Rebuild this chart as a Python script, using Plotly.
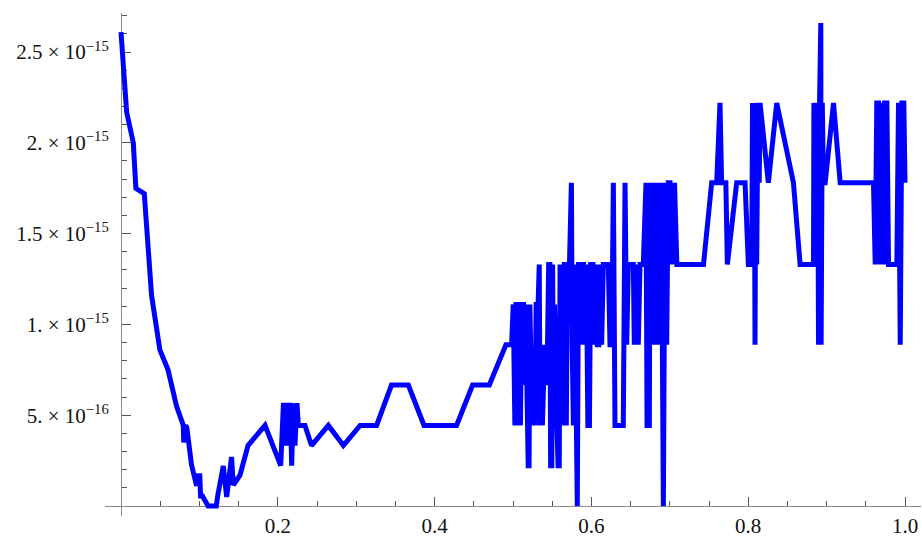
import numpy as np
import plotly.graph_objects as go

# Sample positions and the corresponding error values (in units of 1e-16)
x_vals = [
    0.0, 0.0072, 0.0157, 0.019, 0.0297, 0.039, 0.0496, 0.060, 0.0708, 0.0790,
    0.0795, 0.0800, 0.0825, 0.0840, 0.0900, 0.0965, 0.0975, 0.1005, 0.1015, 0.1040,
    0.1110, 0.1215, 0.1222, 0.1235, 0.1305, 0.1348, 0.1410, 0.1433, 0.1518, 0.1620,
    0.1837, 0.2037, 0.2071, 0.2085, 0.2113, 0.2134, 0.2160, 0.2177, 0.2198, 0.2219,
    0.2245, 0.2262, 0.2347, 0.2430, 0.2645, 0.2836, 0.3050, 0.3260, 0.3450, 0.3665,
    0.3865, 0.4280, 0.4485, 0.4698, 0.4910, 0.4982,
    0.5003, 0.5010, 0.5024, 0.5038, 0.5055, 0.5062, 0.5080, 0.5095, 0.5110, 0.5135,
    0.5145, 0.5160, 0.5175, 0.5194, 0.5205, 0.5215, 0.5225, 0.5240, 0.5255, 0.5270,
    0.5280, 0.5295, 0.5320, 0.5335, 0.5345, 0.5360, 0.5375, 0.5390, 0.5405, 0.5420,
    0.5440, 0.5455, 0.5470, 0.5480, 0.5495, 0.5505, 0.5515, 0.5530, 0.5545, 0.5560,
    0.5575, 0.5590, 0.5600, 0.5610, 0.5625, 0.5640, 0.5655, 0.5665, 0.5680, 0.5695,
    0.5720, 0.5745, 0.5755, 0.5770, 0.5785, 0.5800, 0.5820, 0.5835, 0.5850, 0.5865,
    0.5880, 0.5900, 0.5915, 0.5935, 0.5955, 0.5975, 0.5990, 0.6020, 0.6035, 0.6050,
    0.6075, 0.6095, 0.6105, 0.6131, 0.6152, 0.6216, 0.6237, 0.6260, 0.6280, 0.6301,
    0.6407, 0.6429, 0.6450, 0.6471, 0.6535, 0.6547, 0.6569, 0.6598, 0.6620, 0.6662,
    0.6696, 0.6710, 0.6739, 0.6747, 0.6770, 0.6790, 0.6811, 0.6832, 0.6854, 0.6875,
    0.6905, 0.6918, 0.6939, 0.6960, 0.6981, 0.7003, 0.7025, 0.7060, 0.7090, 0.7430,
    0.7534, 0.7598, 0.7640, 0.7661, 0.7715, 0.7734, 0.7853, 0.7960, 0.8002, 0.8045,
    0.8055, 0.8066, 0.8077, 0.8087, 0.8098, 0.8108, 0.8125, 0.8140, 0.8151, 0.8257,
    0.8364, 0.8577, 0.8662, 0.8833, 0.8838, 0.8850, 0.8860, 0.8875, 0.8885, 0.8897,
    0.8910, 0.8926, 0.8930, 0.8945, 0.8960, 0.8982, 0.9088, 0.9173, 0.9598, 0.9620,
    0.9640, 0.9662, 0.9685, 0.9705, 0.9726, 0.9740, 0.9769, 0.9790, 0.9896, 0.9917,
    0.9939, 0.9960, 0.9985, 1.0,
]

err_1e16 = [
    26.1, 21.7, 20.0, 17.5, 17.2, 11.6, 8.6, 7.5, 5.5, 4.44,
    4.44, 3.5, 4.44, 4.3, 2.25, 1.11, 1.67, 1.67, 0.55, 0.55,
    0.0, 0.0, 0.6, 0.6, 2.2, 0.5, 2.7, 1.15, 1.7, 3.33,
    4.44, 2.22, 5.55, 5.55, 3.33, 5.55, 5.55, 2.22, 5.66, 3.33,
    5.66, 4.44, 4.44, 3.33, 4.44, 3.33, 4.44, 4.44, 6.66, 6.66,
    4.44, 4.44, 6.66, 6.66, 8.88, 8.88,
    11.1, 8.88, 4.44, 11.1, 11.1, 4.44, 8.88, 4.44, 11.1, 11.1,
    6.66, 11.1, 4.44, 2.22, 2.22, 11.1, 8.88, 6.66, 4.44, 6.66,
    4.44, 11.1, 11.1, 13.3, 4.44, 6.66, 4.44, 6.66, 8.88, 6.66,
    8.88, 13.3, 13.3, 2.22, 2.22, 13.3, 6.66, 11.1, 4.44, 4.44,
    2.22, 2.22, 13.3, 4.44, 13.3, 4.44, 13.3, 13.3, 4.44, 13.3,
    13.3, 17.8, 8.88, 4.44, 13.3, 4.44, 0.0, 13.3, 13.3, 8.88,
    13.3, 13.3, 8.88, 13.3, 4.44, 4.44, 13.3, 13.3, 8.88, 13.3,
    8.88, 8.88, 13.3, 8.88, 13.3, 13.3, 8.88, 8.88, 17.8, 4.44,
    4.44, 17.8, 8.88, 13.3, 13.3, 8.88, 13.3, 8.88, 13.3, 13.3,
    17.8, 4.44, 4.44, 17.8, 8.88, 17.8, 8.88, 17.8, 8.88, 17.8,
    8.88, 0.0, 17.8, 8.88, 17.8, 17.8, 13.3, 17.8, 13.3, 13.3,
    17.8, 17.8, 22.2, 17.8, 17.8, 13.3, 17.8, 17.8, 13.3, 13.3,
    22.2, 13.3, 22.2, 8.88, 22.2, 13.3, 22.2, 17.8, 22.2, 17.8,
    22.2, 17.8, 13.3, 13.3, 22.2, 17.8, 22.2, 13.3, 22.2, 8.88,
    22.2, 26.6, 8.88, 22.2, 17.8, 17.8, 22.2, 17.8, 17.8, 13.3,
    22.2, 22.2, 13.3, 22.2, 13.3, 22.2, 22.2, 13.3, 13.3, 22.2,
    8.88, 22.2, 22.2, 17.8,
]

x_tick_vals = [0.2, 0.4, 0.6, 0.8, 1.0]
x_tick_text = ["0.2", "0.4", "0.6", "0.8", "1.0"]
y_tick_vals = [5e-16, 1e-15, 1.5e-15, 2e-15, 2.5e-15]
y_tick_text = [
    "5. × 10<sup>−16</sup>",
    "1. × 10<sup>−15</sup>",
    "1.5 × 10<sup>−15</sup>",
    "2. × 10<sup>−15</sup>",
    "2.5 × 10<sup>−15</sup>",
]

y_vals = np.array(err_1e16) * 1e-16

x_range = [-0.0204, 1.0204]
y_range = [-0.055e-15, 2.715e-15]

axis_gray = "#8a8a8a"
tick_gray = "#555555"
font = dict(family="Liberation Serif", size=21, color="#111111")

fig = go.Figure()
fig.add_trace(go.Scatter(
    x=x_vals, y=y_vals, mode="lines",
    line=dict(color="rgb(0,0,255)", width=5),
    hoverinfo="skip",
))

fig.update_layout(
    width=922, height=538,
    margin=dict(l=105, r=1, t=13, b=22),
    paper_bgcolor="white", plot_bgcolor="white",
    showlegend=False,
    xaxis=dict(
        range=x_range, anchor="free",
        position=(0 - y_range[0]) / (y_range[1] - y_range[0]),
        showline=True, linecolor=axis_gray, linewidth=1,
        showgrid=False, zeroline=False,
        ticks="inside", ticklen=9, tickwidth=1, tickcolor=tick_gray,
        tickmode="array", tickvals=x_tick_vals, ticktext=x_tick_text,
        minor=dict(tickvals=[round(0.05 * i, 2) for i in range(1, 21)],
                   ticks="inside", ticklen=5, tickwidth=1, tickcolor=tick_gray),
        tickfont=font, ticklabelstandoff=1,
        layer="below traces",
    ),
    yaxis=dict(
        range=y_range, anchor="free",
        position=(0 - x_range[0]) / (x_range[1] - x_range[0]),
        showline=True, linecolor=axis_gray, linewidth=1,
        showgrid=False, zeroline=False,
        ticks="inside", ticklen=9, tickwidth=1, tickcolor=tick_gray,
        tickmode="array", tickvals=y_tick_vals, ticktext=y_tick_text,
        minor=dict(tickvals=[i * 1e-16 for i in range(1, 28)],
                   ticks="inside", ticklen=5, tickwidth=1, tickcolor=tick_gray),
        tickfont=font, ticklabelstandoff=8,
        layer="below traces",
    ),
)

fig.write_html("out.html")
